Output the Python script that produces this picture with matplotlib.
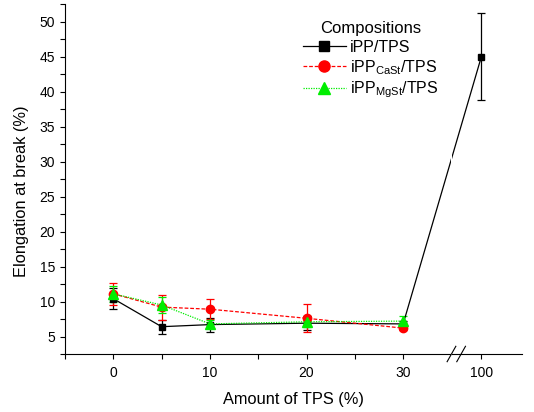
import numpy as np
import matplotlib
matplotlib.use('Agg')
import matplotlib.pyplot as plt
from matplotlib.lines import Line2D

plt.rcParams['font.family'] = ['Liberation Sans', 'DejaVu Sans']
plt.rcParams['mathtext.fontset'] = 'custom'
plt.rcParams['mathtext.rm'] = 'Liberation Sans'

tps = [0, 5, 10, 20, 30, 100]

ipp_y = [10.4, 6.4, 6.7, 6.9, 6.8, 45.0]
ipp_err = [1.5, 1.0, 1.0, 1.0, 0.4, 6.2]

cast_x = [0, 5, 10, 20, 30]
cast_y = [11.1, 9.2, 8.9, 7.6, 6.2]
cast_err = [1.6, 1.8, 1.4, 2.0, 0.3]

mgst_x = [0, 5, 10, 20, 30]
mgst_y = [11.1, 9.5, 6.8, 7.1, 7.2]
mgst_err = [1.1, 1.1, 0.6, 0.8, 0.8]

x_ticks = [0, 10, 20, 30, 100]
x_minor = [-5, 5, 15, 25]

# broken axis: 35..97.9 squeezed into a small gap
B1, B2, G = 35.0, 97.9, 1.0


def fwd(x):
  x = np.asarray(x, dtype=float)
  return np.where(x <= B1, x,
                  np.where(x >= B2, B1 + G + (x - B2), B1 + (x - B1) * G / (B2 - B1)))


def inv(t):
  t = np.asarray(t, dtype=float)
  return np.where(t <= B1, t,
                  np.where(t >= B1 + G, t - B1 - G + B2, B1 + (t - B1) * (B2 - B1) / G))


fig = plt.figure(figsize=(5.34, 4.12), dpi=100)
ax = fig.add_axes([65 / 534, 1 - 354 / 412, (522 - 65) / 534, 350 / 412])
ax.set_xscale('function', functions=(fwd, inv))

styles = [
  ('black', '-', 's', 5, 'iPP/TPS'),
  ('red', (0, (3, 1.5)), 'o', 6, r'iPP$_{\mathrm{CaSt}}$/TPS'),
  ('#00ee00', (0, (1, 1)), '^', 6.5, r'iPP$_{\mathrm{MgSt}}$/TPS'),
]
series = [(tps, ipp_y, ipp_err), (cast_x, cast_y, cast_err), (mgst_x, mgst_y, mgst_err)]

handles = []
for (c, ls, m, ms, lab), (xs, ys, es) in zip(styles, series):
  ax.errorbar(xs, ys, yerr=es, color=c, ls=ls, lw=0.9, marker=m, ms=ms,
              capsize=2.8, elinewidth=0.9, capthick=0.9)
  handles.append(Line2D([], [], color=c, ls=ls, lw=0.9, marker=m, ms=ms + 2, label=lab))

ax.set_xlim(-5, 104.2)
ax.set_ylim(2.5, 52.5)
ax.set_xticks(x_ticks)
ax.set_xticklabels([str(v) for v in x_ticks])
ax.set_xticks(x_minor, minor=True)
ax.set_yticks(np.arange(5, 51, 5))
ax.set_yticks(np.arange(2.5, 53, 2.5), minor=True)

for s in ['top', 'right']:
  ax.spines[s].set_visible(False)
ax.tick_params(which='both', direction='out', length=3.5, width=0.8, labelsize=10)
ax.tick_params(axis='x', which='major', pad=5)

# break gap and slashes
ax.axvspan(B1 + 0.05, B1 + G - 0.05, ymin=-0.01, ymax=1, color='white', zorder=5, clip_on=False, lw=0)
xtr = ax.get_xaxis_transform()
for xb in [B1, B1 + G]:
  ax.plot(inv([xb - 0.45, xb + 0.45]), [-0.022, 0.022], color='black', lw=0.8,
          transform=xtr, clip_on=False, zorder=6)

ax.set_xlabel('Amount of TPS (%)', fontsize=11.8, labelpad=9)
ax.set_ylabel('Elongation at break (%)', fontsize=11.8)
ax.yaxis.set_label_coords(-0.078, 0.466)

leg = ax.legend(handles=handles, loc='upper left', bbox_to_anchor=(0.52, 0.95), frameon=False,
                title='Compositions', fontsize=11.5, title_fontsize=12, handlelength=2.7,
                handletextpad=0.25, labelspacing=0.2, borderpad=0, borderaxespad=0)

fig.savefig('out.png', dpi=100)
